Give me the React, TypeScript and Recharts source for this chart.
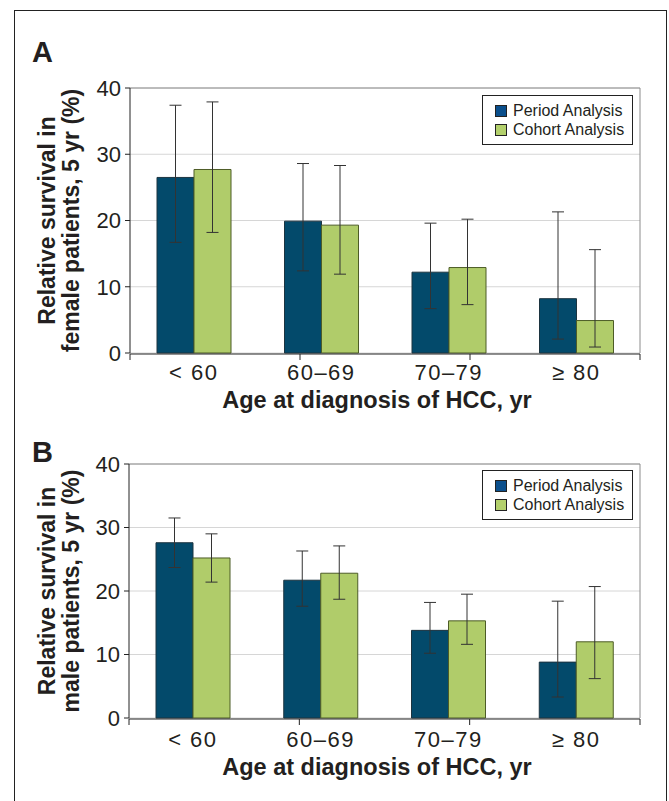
import { BarChart, Bar, XAxis, YAxis, CartesianGrid, ErrorBar, ReferenceLine, Legend } from "recharts";

const ageGroups = ["< 60", "60–69", "70–79", "≥ 80"];
const yTicks = [0, 10, 20, 30, 40];
const edgeTicks = [0, 1, 2, 3, 4];
const seriesNames = ["Period Analysis", "Cohort Analysis"];

// panel A: female patients
const femalePeriod = [26.5, 19.9, 12.2, 8.2];
const femalePeriodLo = [16.7, 12.4, 6.7, 2.1];
const femalePeriodHi = [37.4, 28.6, 19.6, 21.3];
const femaleCohort = [27.7, 19.3, 12.9, 4.9];
const femaleCohortLo = [18.2, 11.9, 7.3, 0.9];
const femaleCohortHi = [37.9, 28.3, 20.2, 15.6];

// panel B: male patients
const malePeriod = [27.6, 21.7, 13.8, 8.8];
const malePeriodLo = [23.7, 17.6, 10.2, 3.3];
const malePeriodHi = [31.5, 26.3, 18.2, 18.4];
const maleCohort = [25.2, 22.8, 15.3, 12.0];
const maleCohortLo = [21.4, 18.7, 11.6, 6.2];
const maleCohortHi = [29.0, 27.1, 19.5, 20.7];

const FONT = '"Liberation Sans", Arial, Helvetica, sans-serif';
const BLUE = "#034a6b";
const GREEN = "#b0cc6a";
const SWATCH = ["#0b4f8c", "#b3d06c"];
const INK = "#231f20";

function buildRows(
  period: number[], periodLo: number[], periodHi: number[],
  cohort: number[], cohortLo: number[], cohortHi: number[]
) {
  return ageGroups.map((age, i) => ({
    age,
    period: period[i],
    cohort: cohort[i],
    periodErr: [period[i] - periodLo[i], periodHi[i] - period[i]],
    cohortErr: [cohort[i] - cohortLo[i], cohortHi[i] - cohort[i]],
  }));
}

const femaleRows = buildRows(femalePeriod, femalePeriodLo, femalePeriodHi, femaleCohort, femaleCohortLo, femaleCohortHi);
const maleRows = buildRows(malePeriod, malePeriodLo, malePeriodHi, maleCohort, maleCohortLo, maleCohortHi);

function LegendBox() {
  return (
    <div style={{ border: "1px solid #222", background: "#fff", padding: "5px 0 5px 12px", fontFamily: FONT, fontSize: 16, color: INK }}>
      {seriesNames.map((name, i) => (
        <div key={name} style={{ display: "flex", alignItems: "center", height: 19 }}>
          <span style={{ width: 10, height: 10, background: SWATCH[i], border: "1px solid #222", marginRight: 6, display: "inline-block" }} />
          <span>{name}</span>
        </div>
      ))}
    </div>
  );
}

function YTitle({ lines, mid }: { lines: string[]; mid: number }) {
  const xs = [55, 79];
  return (
    <g>
      {lines.map((t, i) => (
        <text key={i} x={xs[i]} y={mid} transform={`rotate(-90 ${xs[i]} ${mid})`} textAnchor="middle"
          fontFamily={FONT} fontWeight="bold" fontSize={23} fill={INK}>{t}</text>
      ))}
    </g>
  );
}

function XTitle({ base }: { base: number }) {
  return (
    <text x={377} y={base} textAnchor="middle" fontFamily={FONT} fontWeight="bold" fontSize={23.5} fill={INK}>
      Age at diagnosis of HCC, yr
    </text>
  );
}

type PanelProps = {
  rows: ReturnType<typeof buildRows>;
  top: number;
  height: number;
  plotTop: number;
  plotBottom: number;
  plotLeft: number;
  tickGap: number;
  titleGap: number;
  yLines: string[];
  letter: string;
  legendTop: number;
};

function Panel({ rows, top, height, plotTop, plotBottom, plotLeft, tickGap, titleGap, yLines, letter, legendTop }: PanelProps) {
  return (
    <div style={{ position: "absolute", left: 0, top, width: 669, height }}>
      <div style={{ position: "absolute", left: 32, top: 38, fontFamily: FONT, fontWeight: "bold", fontSize: 29, lineHeight: "29px", color: INK }}>
        {letter}
      </div>
      <BarChart width={669} height={height} data={rows} barGap={0} barSize={37}
        margin={{ top: plotTop, right: 28, bottom: height - plotBottom - 2, left: 0 }}>
        <CartesianGrid vertical={false} stroke="#d6d6d6" />
        <ReferenceLine y={40} stroke="#8c8c8c" />
        <XAxis dataKey="age" height={1} axisLine={false} tickLine={false} tickSize={tickGap} tickMargin={0}
          tick={{ fontFamily: FONT, fontSize: 22, fill: INK, letterSpacing: 1.5 }}
          label={<XTitle base={plotBottom + titleGap} />} />
        <XAxis xAxisId="edge" type="number" domain={[0, 4]} ticks={edgeTicks} height={1} tickSize={6}
          tickFormatter={() => ""} stroke="#222" />
        <YAxis domain={[0, 40]} ticks={yTicks} width={plotLeft} tickSize={5} tickMargin={4} stroke="#222"
          tick={{ fontFamily: FONT, fontSize: 22, fill: INK }}
          label={<YTitle lines={yLines} mid={(plotTop + plotBottom) / 2} />} />
        <YAxis yAxisId="frame" orientation="right" domain={[0, 40]} width={1} tick={false} stroke="#8c8c8c" />
        <Legend content={<LegendBox />} layout="vertical" align="center" verticalAlign="middle"
          wrapperStyle={{ left: 482, top: legendTop, width: 151 }} />
        <Bar dataKey="period" name={seriesNames[0]} fill={BLUE} stroke="#1c3440" strokeWidth={1} isAnimationActive={false}>
          <ErrorBar dataKey="periodErr" direction="y" width={6} stroke="#333" strokeWidth={1} />
        </Bar>
        <Bar dataKey="cohort" name={seriesNames[1]} fill={GREEN} stroke="#4d5c27" strokeWidth={1} isAnimationActive={false}>
          <ErrorBar dataKey="cohortErr" direction="y" width={6} stroke="#333" strokeWidth={1} />
        </Bar>
      </BarChart>
    </div>
  );
}

export default function App() {
  return (
    <div style={{ position: "absolute", left: 0, top: 0, width: 669, height: 801, background: "#fff", overflow: "hidden" }}>
      <div style={{ position: "absolute", left: 14, top: 10, width: 651, height: 800, border: "1px solid #222", borderBottom: "none" }} />
      <Panel rows={femaleRows} top={0} height={420} plotTop={88} plotBottom={353} plotLeft={130} tickGap={11} titleGap={55}
        yLines={["Relative survival in", "female patients, 5 yr (%)"]} letter="A" legendTop={95} />
      <Panel rows={maleRows} top={400} height={401} plotTop={64} plotBottom={318} plotLeft={129} tickGap={13} titleGap={57}
        yLines={["Relative survival in", "male patients, 5 yr (%)"]} letter="B" legendTop={70} />
    </div>
  );
}
